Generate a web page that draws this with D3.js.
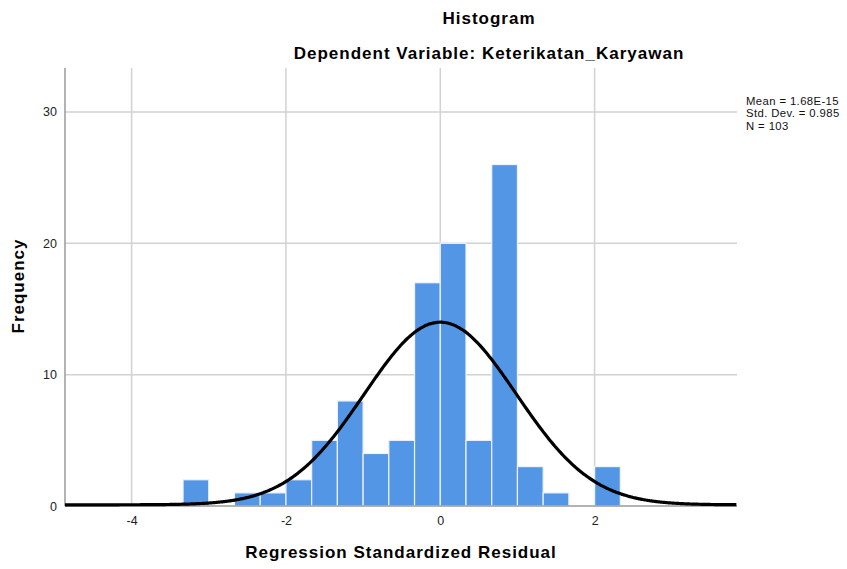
<!DOCTYPE html>
<html lang="en">
<head>
    <meta charset="UTF-8">
    <title>Histogram</title>
    <script src="https://d3js.org/d3.v7.min.js"></script>
    <style>
        body {
            margin: 0;
            background-color: #ffffff;
            font-family: Arial, 'Liberation Sans', sans-serif;
        }
        .grid line {
            stroke: #d2d2d2;
            stroke-width: 1.5;
        }
        .axis text {
            font-size: 12.5px;
            fill: #222;
        }
        .axis path, .axis line {
            stroke: none;
        }
        .title {
            font-size: 17px;
            font-weight: bold;
            letter-spacing: 1px;
        }
    </style>
</head>
<body>
    <svg width="847" height="569" class="chart"></svg>

    <script>
        // Bin lower edges (width 1/3) and frequencies
        const binStarts = [-10/3, -3, -8/3, -7/3, -2, -5/3, -4/3, -1, -2/3, -1/3, 0, 1/3, 2/3, 1, 4/3, 5/3, 2];
        const counts = [2, 0, 1, 1, 2, 5, 8, 4, 5, 17, 20, 5, 26, 3, 1, 0, 3];
        const binWidth = 1 / 3;

        const xTicks = [-4, -2, 0, 2];
        const yTicks = [0, 10, 20, 30];

        // Stats from the legend
        const statLabels = ["Mean = 1.68E-15", "Std. Dev. = 0.985", "N = 103"];
        const mean = 1.68e-15, stdDev = 0.985, n = 103;

        const svg = d3.select(".chart");
        const margin = { top: 68, right: 110, bottom: 63, left: 65 };
        const width = +svg.attr("width");
        const height = +svg.attr("height");

        const x = d3.scaleLinear()
            .domain([-4.863, 3.845])
            .range([margin.left, width - margin.right]);

        const y = d3.scaleLinear()
            .domain([0, 33.35])
            .range([height - margin.bottom, margin.top]);

        // Gridlines
        const grid = svg.append("g").attr("class", "grid");
        grid.selectAll(".vgrid")
            .data(xTicks)
            .enter().append("line")
            .attr("x1", d => x(d)).attr("x2", d => x(d))
            .attr("y1", y.range()[1]).attr("y2", y.range()[0]);
        grid.selectAll(".hgrid")
            .data(yTicks.filter(d => d > 0))
            .enter().append("line")
            .attr("x1", x.range()[0]).attr("x2", x.range()[1])
            .attr("y1", d => y(d)).attr("y2", d => y(d));

        // Bars
        const bins = binStarts.map((s, i) => ({ x0: s, x1: s + binWidth, count: counts[i] }));
        svg.selectAll(".bar")
            .data(bins.filter(d => d.count > 0))
            .enter().append("rect")
            .attr("class", "bar")
            .attr("x", d => x(d.x0))
            .attr("y", d => y(d.count))
            .attr("width", d => x(d.x1) - x(d.x0))
            .attr("height", d => y(0) - y(d.count))
            .attr("fill", "#5496e6")
            .attr("stroke", "#eef3fb")
            .attr("stroke-width", 1.2);

        // Axis lines
        svg.append("line")
            .attr("x1", x.range()[0]).attr("x2", x.range()[0])
            .attr("y1", y.range()[1]).attr("y2", y.range()[0])
            .attr("stroke", "#9a9a9a").attr("stroke-width", 1.5);
        svg.append("line")
            .attr("x1", x.range()[0]).attr("x2", x.range()[1])
            .attr("y1", y(0)).attr("y2", y(0))
            .attr("stroke", "#9a9a9a").attr("stroke-width", 1.5);

        // Normal curve scaled to the histogram
        const curveXs = d3.range(x.domain()[0], x.domain()[1] + 0.001, 0.02);
        const normal = v => n * binWidth / (stdDev * Math.sqrt(2 * Math.PI)) *
            Math.exp(-0.5 * Math.pow((v - mean) / stdDev, 2));
        svg.append("path")
            .datum(curveXs)
            .attr("fill", "none")
            .attr("stroke", "#000")
            .attr("stroke-width", 3.2)
            .attr("d", d3.line().x(d => x(d)).y(d => y(normal(d)) - 1.2).curve(d3.curveBasis));

        // Axes (labels only), plain hyphen for negatives like the original
        svg.append("g")
            .attr("class", "axis")
            .attr("transform", `translate(0, ${y(0) + 2})`)
            .call(d3.axisBottom(x).tickValues(xTicks).tickSize(0).tickPadding(8).tickFormat(d => String(d)))
            .select(".domain").remove();

        svg.append("g")
            .attr("class", "axis")
            .attr("transform", `translate(${margin.left - 4}, 0)`)
            .call(d3.axisLeft(y).tickValues(yTicks).tickSize(0).tickPadding(4).tickFormat(d => String(d)))
            .select(".domain").remove();

        // Titles
        svg.append("text")
            .attr("class", "title")
            .attr("x", 489).attr("y", 24)
            .attr("text-anchor", "middle")
            .text("Histogram");
        svg.append("text")
            .attr("class", "title")
            .attr("x", 489).attr("y", 59)
            .attr("text-anchor", "middle")
            .text("Dependent Variable: Keterikatan_Karyawan");

        svg.append("text")
            .attr("class", "title")
            .attr("x", 401).attr("y", 558)
            .attr("text-anchor", "middle")
            .text("Regression Standardized Residual");

        svg.append("text")
            .attr("class", "title")
            .attr("text-anchor", "middle")
            .attr("transform", `translate(24, 286) rotate(-90)`)
            .text("Frequency");

        // Stats legend
        svg.selectAll(".stat")
            .data(statLabels)
            .enter().append("text")
            .attr("class", "stat")
            .attr("x", 746)
            .attr("y", (d, i) => 105 + i * 12.3)
            .style("font-size", "11.3px")
            .style("letter-spacing", "0.4px")
            .style("fill", "#111")
            .text(d => d);
    </script>
</body>
</html>
